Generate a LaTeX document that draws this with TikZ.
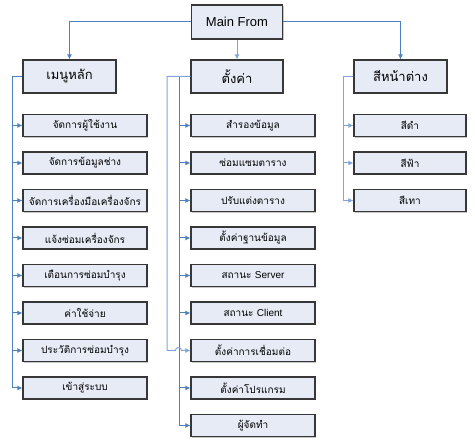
\documentclass[tikz,border=0pt]{standalone}
\usepackage{fontspec}
\setmainfont{Liberation Sans}
\newfontfamily\thaifont[Script=Thai]{Loma}
\usepackage{tikz}
\usetikzlibrary{arrows.meta}
\usetikzlibrary{shadows}
\definecolor{bleu}{RGB}{79,129,189}
\definecolor{bleuclair}{RGB}{130,165,215}
\definecolor{fondboite}{RGB}{231,235,246}
\definecolor{bord}{RGB}{55,55,55}

\tikzset{
  boite/.style={draw=bord, line width=1.1pt, fill=fondboite, inner sep=0pt,
    minimum height=33pt, font=\fontsize{13}{15}\selectfont\thaifont,
    drop shadow={shadow xshift=1.2pt, shadow yshift=-1.2pt, opacity=.45}},
  item/.style={boite, minimum height=22pt, font=\fontsize{10}{12}\selectfont\thaifont},
  lien/.style={draw=bleu, line width=1pt, -{Latex[length=5pt,width=5pt]}},
}

\begin{document}
\begin{tikzpicture}[x=1pt,y=-1pt]
\useasboundingbox (0,0) rectangle (475,441);
% niveau 1 et 2
\node[boite, font=\fontsize{13}{15}\selectfont, minimum width=91pt, minimum height=34pt] (main) at (237,22) {Main From};
\node[boite, minimum width=93pt] (menu) at (69.5,76.5) {เมนูหลัก};
\node[boite, minimum width=92pt] (reglage) at (237,76.5) {ตั้งค่า};
\node[boite, minimum width=93pt] (couleur) at (400.5,76.5) {สีหน้าต่าง};
\draw[lien] (main.west) -| (menu.north);
\draw[lien, draw=bleuclair] (main.south) -- (reglage.north);
\draw[lien] (main.east) -| (couleur.north);
% sous-menus
\foreach \t [count=\i] in {จัดการผู้ใช้งาน, จัดการข้อมูลช่าง, จัดการเครื่องมือเครื่องจักร, แจ้งซ่อมเครื่องจักร, เตือนการซ่อมบำรุง, ค่าใช้จ่าย, ประวัติการซ่อมบำรุง, เข้าสู่ระบบ}
  \node[item, minimum width=124pt] (m\i) at (85,88+37.5*\i) {\t};
\foreach \t [count=\i] in {สำรองข้อมูล, ซ่อมแซมตาราง, ปรับแต่งตาราง, ตั้งค่าฐานข้อมูล, สถานะ {\fontspec{Liberation Sans}Server}, สถานะ {\fontspec{Liberation Sans}Client}, ตั้งค่าการเชื่อมต่อ, ตั้งค่าโปรแกรม, ผู้จัดทำ}
  \node[item, minimum width=124pt] (r\i) at (253,88+37.5*\i) {\t};
\foreach \t [count=\i] in {สีดำ, สีฟ้า, สีเทา}
  \node[item, minimum width=112pt] (c\i) at (410,88+37.5*\i) {\t};
% liaisons
\coordinate (tg) at (12,76.5);
\coordinate (tm) at (179,76.5);
\coordinate (tm2) at (167,76.5);
\coordinate (td) at (343,76.5);
\coordinate (saut) at ([xshift=-15pt]r7.west);
\foreach \i in {1,...,8} \draw[lien] (menu.west) -- (tg) |- (m\i.west);
\foreach \i in {1,...,6,8,9} \draw[lien] (reglage.west) -- (tm) |- (r\i.west);
\draw[lien, draw=bleuclair] (reglage.west) -- (tm2) |- (saut) arc(180:360:3) -- (r7.west);
\foreach \i in {1,...,3} \draw[lien, draw=bleuclair] (couleur.west) -- (td) |- (c\i.west);
\end{tikzpicture}
\end{document}
